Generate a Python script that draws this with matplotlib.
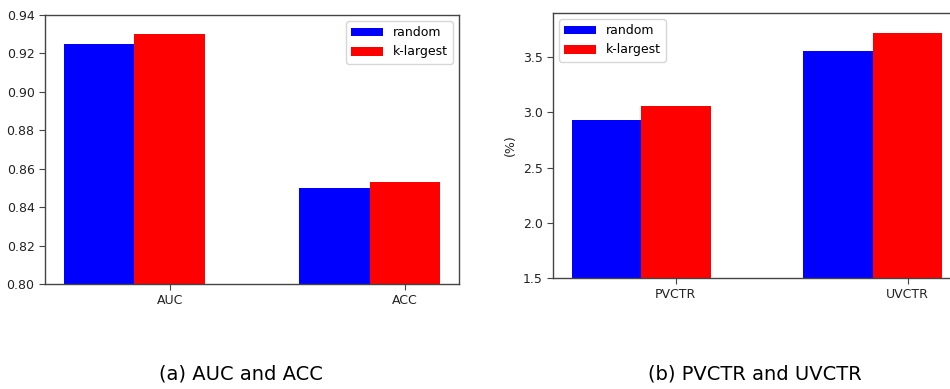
import matplotlib
matplotlib.use("Agg")
import matplotlib.pyplot as plt
import numpy as np

# Data
cats_a = ["AUC", "ACC"]
random_a = [0.925, 0.850]
klargest_a = [0.930, 0.853]

cats_b = ["PVCTR", "UVCTR"]
random_b = [2.93, 3.56]
klargest_b = [3.06, 3.72]

series_names = ["random", "k-largest"]
captions = ["(a) AUC and ACC", "(b) PVCTR and UVCTR"]

W = 0.3
fig = plt.figure(figsize=(9.5, 3.89), dpi=100)

spine_col = "#444444"
text_col = "#222222"

def style(ax):
    for s in ax.spines.values():
        s.set_color(spine_col)
        s.set_linewidth(1.0)
    ax.tick_params(colors=spine_col, labelcolor=text_col, labelsize=9, length=4)

ax1 = fig.add_axes([45/950, 1-284/389, (459-45)/950, (284-15)/389])
x = np.arange(len(cats_a))
ax1.bar(x - W, random_a, W, color="blue", label=series_names[0])
ax1.bar(x, klargest_a, W, color="red", label=series_names[1])
ax1.set_xticks(x)
ax1.set_xticklabels(cats_a)
ax1.set_ylim(0.80, 0.94)
ax1.set_yticks([0.80, 0.82, 0.84, 0.86, 0.88, 0.90, 0.92, 0.94])
style(ax1)
ax1.legend(loc="upper right", fontsize=9, handlelength=2.5, frameon=True)

ax2 = fig.add_axes([553/950, 1-278/389, (960.8-553)/950, (278-13)/389])
x = np.arange(len(cats_b))
ax2.bar(x - W, random_b, W, color="blue", label=series_names[0])
ax2.bar(x, klargest_b, W, color="red", label=series_names[1])
ax2.set_xticks(x)
ax2.set_xticklabels(cats_b)
ax2.set_ylim(1.5, 3.9)
ax2.set_yticks([1.5, 2.0, 2.5, 3.0, 3.5])
ax2.set_ylabel("(%)", fontsize=9, color=text_col)
style(ax2)
ax2.legend(loc="upper left", fontsize=9, handlelength=2.5, frameon=True)

fig.text(241/950, 1-374/389, captions[0], ha="center", va="center", fontsize=14, color="black")
fig.text(755/950, 1-374/389, captions[1], ha="center", va="center", fontsize=14, color="black")

fig.savefig("out.png", dpi=100)
